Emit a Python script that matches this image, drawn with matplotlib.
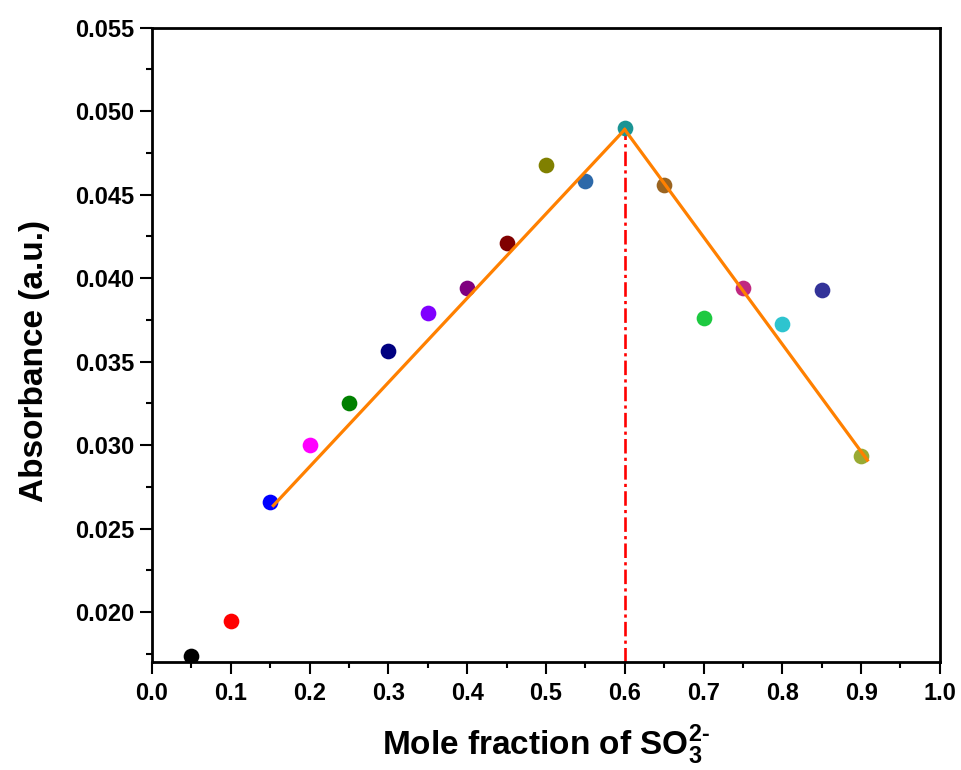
# job plot: absorbance vs mole fraction of SO3(2-)
import matplotlib
matplotlib.use("Agg")
import matplotlib.pyplot as plt
from matplotlib.ticker import MultipleLocator

plt.rcParams['font.family'] = ['Liberation Sans', 'DejaVu Sans']
plt.rcParams['font.weight'] = 'bold'
plt.rcParams['mathtext.fontset'] = 'custom'
plt.rcParams['mathtext.rm'] = 'Liberation Sans:bold'
plt.rcParams['mathtext.bf'] = 'Liberation Sans:bold'

# measured points
mole_fraction = [0.05, 0.10, 0.15, 0.20, 0.25, 0.30, 0.35, 0.40, 0.45,
                 0.50, 0.55, 0.60, 0.65, 0.70, 0.75, 0.80, 0.85, 0.90]
absorbance = [0.01740, 0.01948, 0.02660, 0.02998, 0.03250, 0.03564,
              0.03789, 0.03940, 0.04209, 0.04679, 0.04583, 0.04901,
              0.04559, 0.03759, 0.03939, 0.03724, 0.03929, 0.02934]
point_colors = ['#000000', '#FF0000', '#0000FF', '#FF00FF', '#008000',
                '#000080', '#8000FF', '#800080', '#800000', '#808000',
                '#2D69A9', '#1A9494', '#9B6420', '#1DC940', '#C02880',
                '#2EC4CF', '#333399', '#99AA33']

# fitted lines (left branch and right branch)
fit_left_x = [0.154, 0.600]
fit_left_y = [0.02638, 0.04890]
fit_right_x = [0.600, 0.908]
fit_right_y = [0.04890, 0.02910]

peak_x = 0.6
peak_y = 0.0489

fig = plt.figure(figsize=(9.62, 7.70), dpi=100)
ax = fig.add_axes([0.158, 0.140, 0.819, 0.824])

for x, y, c in zip(mole_fraction, absorbance, point_colors):
    ax.plot(x, y, 'o', color=c, markersize=11.3, markeredgewidth=0, zorder=3)

ax.plot([peak_x, peak_x], [0.0170, peak_y], color='#FF0000', linewidth=1.9,
        dashes=(5.5, 1.6, 1.2, 1.6), zorder=2)
ax.plot(fit_left_x, fit_left_y, color='#FF8000', linewidth=2.3, zorder=4)
ax.plot(fit_right_x, fit_right_y, color='#FF8000', linewidth=2.3, zorder=4)

ax.set_xlim(0, 1.0)
ax.set_ylim(0.0170, 0.055)
ax.xaxis.set_major_locator(MultipleLocator(0.1))
ax.xaxis.set_minor_locator(MultipleLocator(0.05))
ax.yaxis.set_major_locator(MultipleLocator(0.005))
ax.yaxis.set_minor_locator(MultipleLocator(0.0025))
ax.xaxis.set_major_formatter(lambda v, p: f"{v:.1f}")
ax.yaxis.set_major_formatter(lambda v, p: f"{v:.3f}")

ax.tick_params(which='major', direction='out', length=8.5, width=1.5,
               labelsize=17, pad=4)
ax.tick_params(which='minor', direction='out', length=4.3, width=1.5)
ax.tick_params(axis='x', which='major', pad=6)
for lab in ax.get_xticklabels() + ax.get_yticklabels():
    lab.set_fontweight('bold')

for sp in ax.spines.values():
    sp.set_linewidth(2)

ax.set_xlabel(r'Mole fraction of SO$_{\mathbf{3}}^{\mathbf{2}\text{-}}$',
              fontsize=24, fontweight='bold')
ax.set_ylabel('Absorbance (a.u.)', fontsize=24, fontweight='bold')
ax.xaxis.set_label_coords(0.5, -0.095)
ax.yaxis.set_label_coords(-0.13, 0.475)

plt.savefig('out.png', dpi=100)
